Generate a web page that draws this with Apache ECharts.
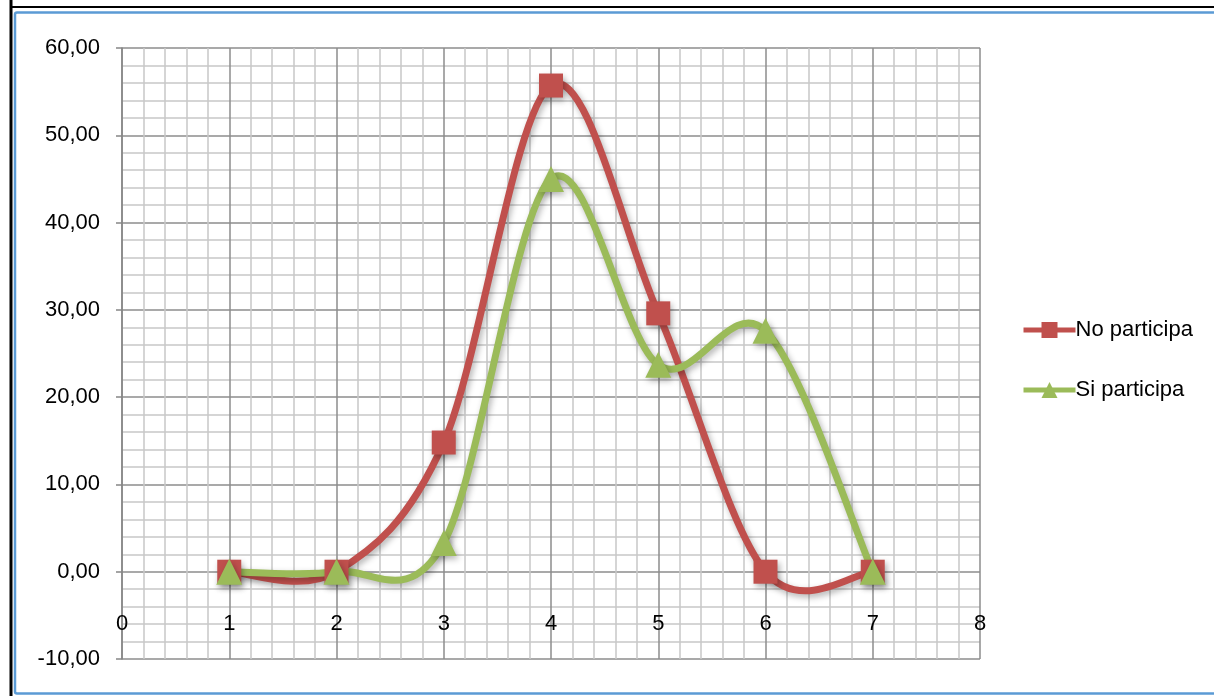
<!DOCTYPE html>
<html>
<head>
<meta charset="utf-8">
<script src="https://cdn.jsdelivr.net/npm/echarts@6/dist/echarts.min.js"></script>
<style>
html,body{margin:0;padding:0;background:#fff;}
#chart{width:1214px;height:696px;}
</style>
</head>
<body>
<div id="chart"></div>
<script>
const xValues = [1, 2, 3, 4, 5, 6, 7];
const noParticipa = [0, 0, 14.8, 55.7, 29.6, 0, 0];
const siParticipa = [0, 0, 3.3, 45.0, 23.7, 27.6, 0];
const seriesNames = ['No participa', 'Si participa'];
const colors = ['#c0504d', '#9bbb59'];

const FONT = '"Liberation Sans", Arial, sans-serif';
const toPairs = arr => xValues.map((x, i) => [x, arr[i]]);

const SHADOW = { shadowColor: 'rgba(0,0,0,0.3)', shadowBlur: 6, shadowOffsetX: 2, shadowOffsetY: 3 };

// Excel-style smoothed line: Catmull-Rom segments converted to Bezier curves,
// computed in pixel space from the library's own coordinate mapping.
function smoothRenderer(values, color) {
  return function (params, api) {
    const i = params.dataIndex;
    const n = values.length;
    if (i !== 0) return null;
    const pts = values.map((v, k) => api.coord([xValues[k], v]));
    const children = [];
    for (let k = 0; k < n - 1; k++) {
      const p0 = pts[Math.max(k - 1, 0)];
      const p1 = pts[k];
      const p2 = pts[k + 1];
      const p3 = pts[Math.min(k + 2, n - 1)];
      children.push({
        type: 'bezierCurve',
        shape: {
          x1: p1[0], y1: p1[1],
          cpx1: p1[0] + (p2[0] - p0[0]) / 6, cpy1: p1[1] + (p2[1] - p0[1]) / 6,
          cpx2: p2[0] - (p3[0] - p1[0]) / 6, cpy2: p2[1] - (p3[1] - p1[1]) / 6,
          x2: p2[0], y2: p2[1]
        },
        style: Object.assign({ fill: null, stroke: color, lineWidth: 7, lineCap: 'round', lineJoin: 'round' }, SHADOW)
      });
    }
    return { type: 'group', children: children };
  };
}

function curveSeries(values, color) {
  return {
    type: 'custom',
    silent: true,
    renderItem: smoothRenderer(values, color),
    data: toPairs(values),
    encode: { x: 0, y: 1 },
    clip: true
  };
}

function markerSeries(name, values, color, symbol, size) {
  return {
    name: name,
    type: 'line',
    data: toPairs(values),
    symbol: symbol,
    symbolSize: size,
    color: color,
    lineStyle: { width: 0, color: color },
    itemStyle: Object.assign({ color: color, opacity: 1 }, SHADOW)
  };
}

const chart = echarts.init(document.getElementById('chart'));
chart.setOption({
  animation: false,
  backgroundColor: '#fff',
  graphic: [
    { type: 'line', shape: { x1: 11, y1: 0, x2: 11, y2: 696 }, style: { stroke: '#000', lineWidth: 3 }, silent: true },
    { type: 'line', shape: { x1: 11, y1: 7, x2: 1214, y2: 7 }, style: { stroke: '#000', lineWidth: 2 }, silent: true },
    { type: 'rect', shape: { x: 15, y: 12.5, width: 1210, height: 681, r: 2 }, style: { fill: 'none', stroke: '#5b9bd5', lineWidth: 2.5 }, silent: true }
  ],
  grid: { left: 122, right: 234, top: 48, bottom: 37, outerBoundsMode: 'none', containLabel: false },
  legend: {
    orient: 'vertical',
    left: 1016,
    top: 314,
    itemWidth: 52,
    itemHeight: 20,
    itemGap: 38,
    lineStyle: { width: 5 },
    textStyle: { fontFamily: FONT, fontSize: 22, color: '#000', padding: [0, 0, 0, -5] },
    data: seriesNames
  },
  xAxis: {
    type: 'value',
    min: 0, max: 8, interval: 1,
    position: 'bottom',
    axisLine: { show: false, onZero: false },
    axisTick: { show: false },
    axisLabel: { fontFamily: FONT, fontSize: 22, color: '#000', margin: -46 },
    splitLine: { show: true, lineStyle: { color: '#8c8c8c', width: 1.5 } },
    minorTick: { show: false, splitNumber: 5 },
    minorSplitLine: { show: true, lineStyle: { color: '#c8c8c8', width: 1.5 } }
  },
  yAxis: {
    type: 'value',
    min: -10, max: 60, interval: 10,
    axisLine: { show: true, onZero: false, lineStyle: { color: '#868686', width: 1.5 } },
    axisTick: { show: true, length: 6, lineStyle: { color: '#868686', width: 1.5 } },
    axisLabel: {
      fontFamily: FONT, fontSize: 22, color: '#000', margin: 22,
      formatter: v => v.toFixed(2).replace('.', ',')
    },
    splitLine: { show: true, lineStyle: { color: '#8c8c8c', width: 1.5 } },
    minorTick: { show: false, splitNumber: 5 },
    minorSplitLine: { show: true, lineStyle: { color: '#c8c8c8', width: 1.5 } }
  },
  series: [
    curveSeries(noParticipa, colors[0]),
    markerSeries(seriesNames[0], noParticipa, colors[0], 'rect', 24),
    curveSeries(siParticipa, colors[1]),
    markerSeries(seriesNames[1], siParticipa, colors[1], 'triangle', 26)
  ]
});
</script>
</body>
</html>
